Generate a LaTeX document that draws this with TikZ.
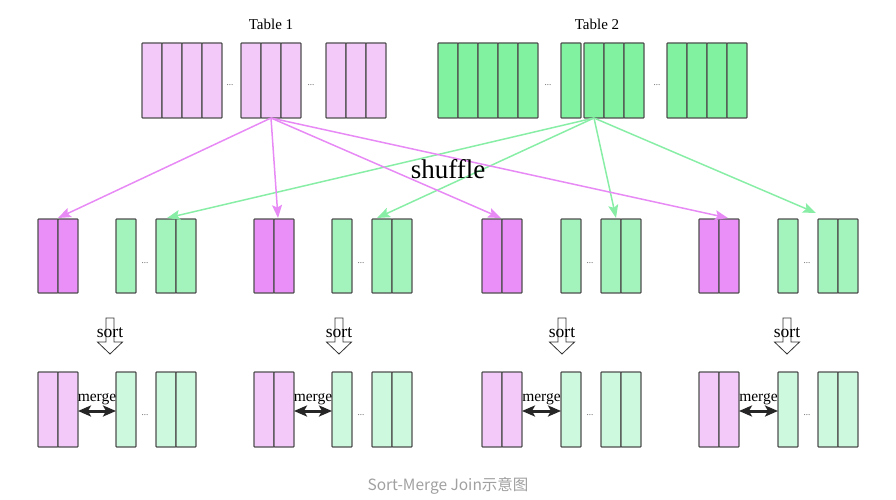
\documentclass[tikz,border=0pt]{standalone}
\usepackage{fontspec}
\setmainfont{Liberation Serif}
\newfontfamily\cjk{Noto Sans CJK SC}
\usetikzlibrary{arrows.meta,calc}
\definecolor{pinkA}{HTML}{F2C9F8}
\definecolor{pinkM}{HTML}{EB8FF8}
\definecolor{greenT}{HTML}{80F2A0}
\definecolor{greenM}{HTML}{A2F4BC}
\definecolor{greenB}{HTML}{CDF9DF}
\definecolor{bd}{HTML}{505050}
\definecolor{pinkArr}{HTML}{E88AF5}
\definecolor{greenArr}{HTML}{88EEA6}
\definecolor{capgray}{HTML}{A0A0A0}
\begin{document}
\begin{tikzpicture}[x=1pt,y=-1pt,
  cell/.style={draw=bd, line width=1.2pt, rounded corners=0.8pt, minimum width=20pt, minimum height=75pt, inner sep=0pt, outer sep=0pt, anchor=north west},
  mcell/.style={cell, minimum height=74pt},
  dots/.style={anchor=base, font=\fontsize{9}{10}\selectfont, text=black!65, inner sep=0pt},
  lbl/.style={anchor=base, font=\fontsize{15}{18}\selectfont, inner sep=0pt},
  sortlbl/.style={anchor=base, font=\fontsize{17.5}{20}\selectfont, inner sep=0pt},
  mergelbl/.style={anchor=base, font=\fontsize{15.5}{18}\selectfont, inner sep=0pt},
  pinkarrow/.style={draw=pinkArr, line width=1.5pt, -{Stealth[length=13pt,width=10pt,inset=2.5pt]}},
  greenarrow/.style={draw=greenArr, line width=1.5pt, -{Stealth[length=13pt,width=10pt,inset=2.5pt]}},
  mergearrow/.style={draw=black!85, line width=3pt, {Stealth[length=13pt,width=11pt,inset=3pt]}-{Stealth[length=13pt,width=11pt,inset=3pt]}},
  sortarrow/.style={draw=black!80, line width=0.8pt, fill=white},
]
\useasboundingbox (0,0) rectangle (896,500);

% ---- Table 1 ----
\node[lbl] (lt1) at (271,30) {Table 1};
\foreach \x [count=\i] in {142,162,182,202} \node[cell,fill=pinkA] (t1a\i) at (\x,43) {};
\foreach \x [count=\i] in {241,261,281} \node[cell,fill=pinkA] (t1b\i) at (\x,43) {};
\foreach \x [count=\i] in {326,346,366} \node[cell,fill=pinkA] (t1c\i) at (\x,43) {};
\node[dots] (d1) at (230,86) {...};
\node[dots] (d2) at (311,86) {...};

% ---- Table 2 ----
\node[lbl] (lt2) at (597,30) {Table 2};
\foreach \x [count=\i] in {438,458,478,498,518} \node[cell,fill=greenT] (t2a\i) at (\x,43) {};
\node[cell,fill=greenT] (t2s) at (561,43) {};
\foreach \x [count=\i] in {584,604,624} \node[cell,fill=greenT] (t2b\i) at (\x,43) {};
\foreach \x [count=\i] in {667,687,707,727} \node[cell,fill=greenT] (t2c\i) at (\x,43) {};
\node[dots] (d3) at (548,86) {...};
\node[dots] (d4) at (657,86) {...};

% ---- middle and bottom rows ----
\foreach \p/\s/\q/\c [count=\k] in {38/116/156/110, 254/332/372/339, 482/561/601/562, 699/778/818/787} {
  % middle
  \node[mcell,fill=pinkM] (mpa\k) at (\p,219) {};
  \node[mcell,fill=pinkM] (mpb\k) at (\p+20,219) {};
  \node[mcell,fill=greenM] (ms\k) at (\s,219) {};
  \node[mcell,fill=greenM] (mqa\k) at (\q,219) {};
  \node[mcell,fill=greenM] (mqb\k) at (\q+20,219) {};
  \node[dots] (md\k) at (\s+29,263) {...};
  % sort arrow
  \draw[sortarrow] (\c-4,318) -- (\c+4,318) -- (\c+4,342) -- (\c+12.5,342) -- (\c,354) -- (\c-12.5,342) -- (\c-4,342) -- cycle;
  \node[sortlbl] (st\k) at (\c,337) {sort};
  % bottom
  \node[cell,fill=pinkA] (bpa\k) at (\p,372) {};
  \node[cell,fill=pinkA] (bpb\k) at (\p+20,372) {};
  \node[cell,fill=greenB] (bs\k) at (\s,372) {};
  \node[cell,fill=greenB] (bqa\k) at (\q,372) {};
  \node[cell,fill=greenB] (bqb\k) at (\q+20,372) {};
  \node[dots] (bd\k) at (\s+29,415) {...};
  \draw[mergearrow] ([yshift=-1.5pt]bpb\k.east) -- ([yshift=-1.5pt]bs\k.west);
  \node[mergelbl] (mg\k) at ({(\p+40+\s)/2},401) {merge};
}

% ---- shuffle arrows ----
\coordinate (pk1) at (58,218);
\coordinate (pk2) at (278,218);
\coordinate (pk3) at (501,218);
\coordinate (pk4) at (728,218);
\coordinate (gk1) at (167,218);
\coordinate (gk2) at (377,218);
\coordinate (gk3) at (616,218);
\coordinate (gk4) at (816,213);
\foreach \i in {1,2,3,4} {
  \draw[pinkarrow] (t1b2.south) -- (pk\i);
  \draw[greenarrow] (t2b1.south) -- (gk\i);
}
\node[anchor=base, font=\fontsize{27}{30}\selectfont, inner sep=0pt] (shuf) at (448,178) {shuffle};

% ---- caption ----
\node[anchor=base, font=\cjk\fontsize{15.5}{18}\selectfont, text=capgray, inner sep=0pt] (cap) at (448,490) {Sort-Merge Join示意图};
\end{tikzpicture}
\end{document}
